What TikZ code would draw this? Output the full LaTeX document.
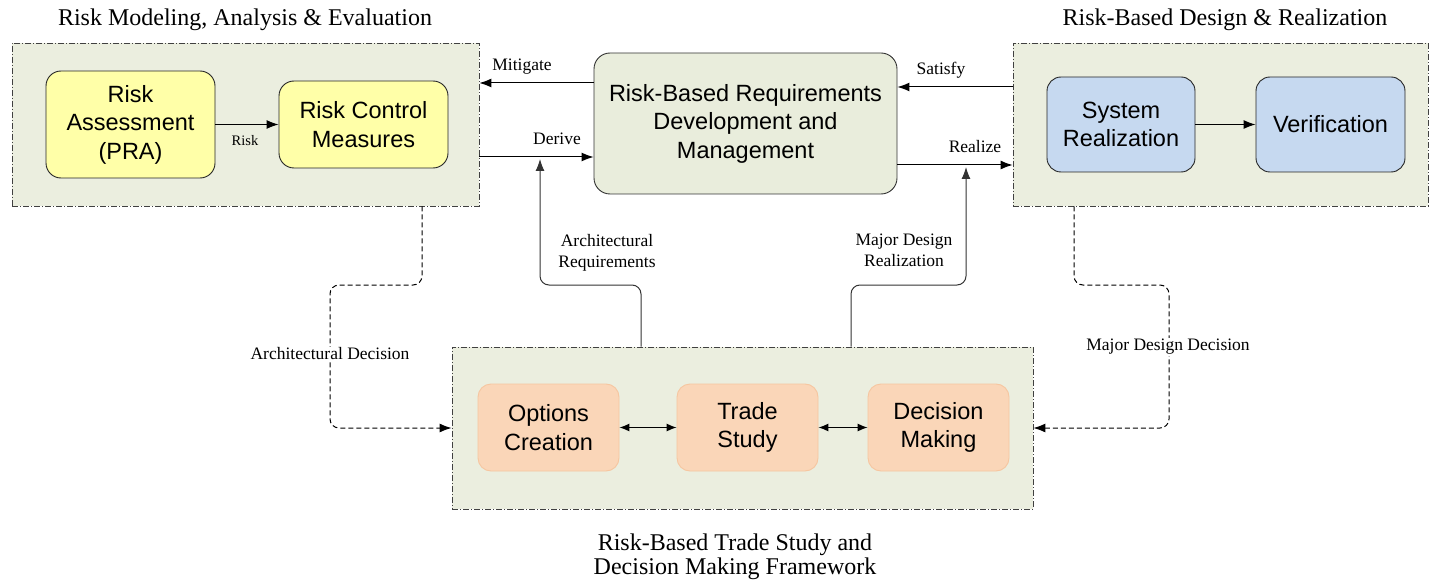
\documentclass[tikz,border=0pt]{standalone}
\usepackage{fontspec}
\setmainfont{Liberation Serif}
\newfontfamily\arialf{Liberation Sans}
\usetikzlibrary{arrows.meta}
\definecolor{contfill}{HTML}{EBEEDF}
\definecolor{cenfill}{HTML}{E9EDDC}
\definecolor{yel}{HTML}{FFFFA8}
\definecolor{blu}{HTML}{C6D9F0}
\definecolor{org}{HTML}{FAD6B8}
\definecolor{orgb}{HTML}{F6C6A0}
\begin{document}
\begin{tikzpicture}[x=1pt,y=-1pt,
  container/.style={draw=black!75, fill=contfill, line width=0.8pt,
    dash pattern=on 6pt off 2pt on 1pt off 2pt, inner sep=0pt},
  boxtext/.style={align=center, inner sep=0pt,
    font=\arialf\fontsize{23.5}{28.5}\selectfont},
  ybox/.style={boxtext, rounded corners=15pt, draw=black!85, line width=0.9pt, fill=yel},
  bbox/.style={boxtext, rounded corners=14pt, draw=black!85, line width=0.9pt, fill=blu},
  obox/.style={boxtext, rounded corners=13pt, draw=orgb, line width=0.9pt, fill=org},
  cbox/.style={boxtext, rounded corners=16pt, draw=black!80, line width=0.9pt, fill=cenfill},
  lab/.style={align=center, inner sep=1pt, font=\fontsize{17.5}{20.7}\selectfont},
  ttl/.style={align=center, inner sep=0pt, font=\fontsize{24}{24}\selectfont},
  arr/.style={line width=1pt, -{Latex[length=12pt,width=9pt]}},
  darr/.style={line width=1pt, {Latex[length=10pt,width=8pt]}-{Latex[length=10pt,width=8pt]}},
  dec/.style={line width=1pt, dash pattern=on 5pt off 3pt, rounded corners=9pt,
    -{Latex[length=12pt,width=9pt]}},
  req/.style={line width=1pt, draw=black!80, rounded corners=9pt,
    -{Latex[length=12pt,width=9pt]}}
]
\useasboundingbox (0,0) rectangle (1429,580);

% titles
\node[ttl] (t1) at (245,20) {Risk Modeling, Analysis \& Evaluation};
\node[ttl] (t2) at (1225,20) {Risk-Based Design \& Realization};
\node[ttl] (t3) at (735,557) {Risk-Based Trade Study and\\Decision Making Framework};

% containers
\node[container, minimum width=467pt, minimum height=163pt] (lc) at (245.5,124.5) {};
\node[container, minimum width=415pt, minimum height=163pt] (rc) at (1220.5,124.5) {};
\node[container, minimum width=581pt, minimum height=162pt] (bc) at (742.5,428) {};

% inner boxes
\node[ybox, minimum width=169pt, minimum height=107pt] (ra) at (130.5,124.5) {Risk\\Assessment\\(PRA)};
\node[ybox, minimum width=169pt, minimum height=87pt] (rcm) at (363.5,124.5) {Risk Control\\Measures};
\node[cbox, minimum width=303pt, minimum height=141pt] (cb) at (745.5,123.5) {Risk-Based Requirements\\Development and\\Management};
\node[bbox, minimum width=148pt, minimum height=95pt] (sr) at (1121,124.5) {System\\Realization};
\node[bbox, minimum width=149pt, minimum height=95pt] (ver) at (1330.5,124.5) {Verification};
\node[obox, minimum width=141pt, minimum height=87pt] (oc) at (548.5,427.5) {Options\\Creation};
\node[obox, minimum width=141pt, minimum height=87pt] (ts) at (747.5,427.5) {Trade\\Study};
\node[obox, minimum width=141pt, minimum height=87pt] (dm) at (938.5,427.5) {Decision\\Making};

% helper coordinates
\coordinate (yMit) at (0,83);
\coordinate (yDer) at (0,157);
\coordinate (ySat) at (0,87);
\coordinate (yRea) at (0,165);
\coordinate (arX) at (641,0);
\coordinate (arC) at (540,285);
\coordinate (arTip) at (540,159);
\coordinate (mdX) at (851,0);
\coordinate (mdC) at (966,285);
\coordinate (mdTip) at (966,167);
\coordinate (adX) at (422,0);
\coordinate (adC) at (330,285);
\coordinate (mddX) at (1074,0);
\coordinate (mddC) at (1169,285);
\coordinate (yDec) at (0,428);

% arrows inside
\draw[arr] (ra) -- (rcm);
\node[inner sep=0pt, font=\fontsize{14.5}{16}\selectfont] (lrisk) at (245,141) {Risk};
\draw[arr] (sr) -- (ver);
\draw[darr] (oc) -- (ts);
\draw[darr] (ts) -- (dm);

% top connections
\draw[arr] (cb.west |- yMit) -- (lc.east |- yMit);
\node[lab] (lmit) at (522,67) {Mitigate};
\draw[arr] (lc.east |- yDer) -- (cb.west |- yDer);
\node[lab] (lder) at (557,139) {Derive};
\draw[arr] (rc.west |- ySat) -- (cb.east |- ySat);
\node[lab] (lsat) at (941,70) {Satisfy};
\draw[arr] (cb.east |- yRea) -- (rc.west |- yRea);
\node[lab] (lrea) at (975,147) {Realize};

% requirement feedback
\draw[req] (bc.north -| arX) |- (arC) -- (arTip);
\node[lab] (lar) at (607,253) {Architectural\\Requirements};
\draw[req] (bc.north -| mdX) |- (mdC) -- (mdTip);
\node[lab] (lmd) at (904,250) {Major Design\\Realization};

% decisions
\draw[dec] (lc.south -| adX) |- (adC) |- (bc.west |- yDec);
\node[lab, fill=white] (lad) at (330,354) {Architectural Decision};
\draw[dec] (rc.south -| mddX) |- (mddC) |- (bc.east |- yDec);
\node[lab, fill=white] (lmdd) at (1168,347) {Major Design Decision};
\end{tikzpicture}
\end{document}
